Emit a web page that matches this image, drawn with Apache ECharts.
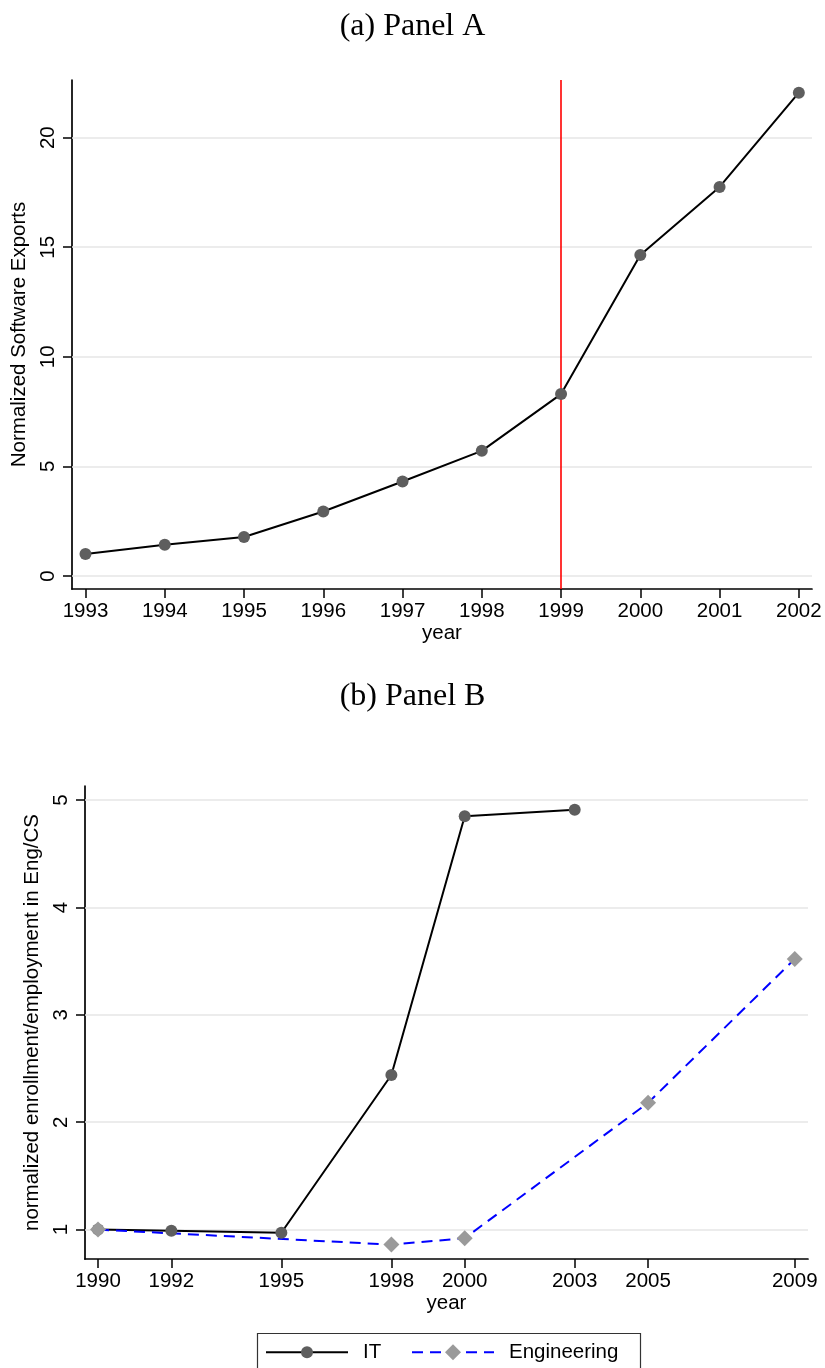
<!DOCTYPE html>
<html><head><meta charset="utf-8">
<script src="https://cdn.jsdelivr.net/npm/echarts@6/dist/echarts.min.js"></script>
<style>html,body{margin:0;padding:0;background:#fff}#c{width:825px;height:1368px}</style>
</head><body><div id="c"></div>
<script>
// Panel A data
const yearsA = [1993, 1994, 1995, 1996, 1997, 1998, 1999, 2000, 2001, 2002];
const exportsA = [1.00, 1.42, 1.78, 2.94, 4.31, 5.71, 8.30, 14.64, 17.75, 22.05];
const ticksAY = [0, 5, 10, 15, 20];
const cutoffYear = 1999;
// Panel B data
const yearsIT = [1990, 1992, 1995, 1998, 2000, 2003];
const valuesIT = [1.00, 0.99, 0.97, 2.44, 4.85, 4.91];
const yearsEng = [1990, 1998, 2000, 2005, 2009];
const valuesEng = [1.00, 0.86, 0.92, 2.18, 3.52];
const ticksBX = [1990, 1992, 1995, 1998, 2000, 2003, 2005, 2009];
const ticksBY = [1, 2, 3, 4, 5];

const sans = 'Liberation Sans';
const fs = 20.5;
const gridColor = '#e6e6e6';

function pairs(xs, ys) { return xs.map((x, i) => [x, ys[i]]); }
function gridLines(vals) {
  return vals.map(v => ({ yAxis: v, lineStyle: { color: gridColor, width: 1.5, type: 'solid' } }));
}

function xAxisOpt(gridIndex, min, max, ticks) {
  return {
    type: 'value', gridIndex, min, max,
    name: 'year', nameLocation: 'middle', nameGap: 34,
    nameTextStyle: { fontFamily: sans, fontSize: fs, color: '#000' },
    axisLine: { show: true, onZero: false, lineStyle: { color: '#000', width: 1.7 } },
    axisTick: { show: true, length: 9, customValues: ticks, lineStyle: { color: '#000', width: 1.5 } },
    axisLabel: { customValues: ticks, formatter: v => String(v), fontFamily: sans, fontSize: fs, color: '#000', margin: 12 },
    splitLine: { show: false }
  };
}
function yAxisOpt(gridIndex, min, max, ticks, name, nameGap) {
  return {
    type: 'value', gridIndex, min, max,
    name, nameLocation: 'middle', nameGap,
    nameTextStyle: { fontFamily: sans, fontSize: fs, color: '#000' },
    axisLine: { show: true, onZero: false, lineStyle: { color: '#000', width: 1.7 } },
    axisTick: { show: true, length: 9, customValues: ticks, lineStyle: { color: '#000', width: 1.5 } },
    axisLabel: { customValues: ticks, rotate: 90, formatter: v => String(v), fontFamily: sans, fontSize: fs, color: '#000', margin: 13 },
    splitLine: { show: false }
  };
}
function legendOpt(name, left, itemHeight) {
  return {
    data: [name], left, top: 1352 - Math.max(itemHeight, fs) / 2,
    itemWidth: 82, itemHeight, padding: 0,
    textStyle: { fontFamily: sans, fontSize: fs, color: '#000', padding: [0, 0, 0, 10] }
  };
}

const chart = echarts.init(document.getElementById('c'), null, { renderer: 'canvas' });
chart.setOption({
  animation: false,
  backgroundColor: '#fff',
  title: [
    { text: '(a) Panel A', left: 'center', top: 6, textStyle: { fontFamily: 'Liberation Serif', fontSize: 32, fontWeight: 'normal', color: '#000' } },
    { text: '(b) Panel B', left: 'center', top: 676, textStyle: { fontFamily: 'Liberation Serif', fontSize: 32, fontWeight: 'normal', color: '#000' } }
  ],
  graphic: [
    { type: 'rect', left: 255, top: 1331, shape: { width: 383, height: 60 }, style: { fill: 'none', stroke: '#333', lineWidth: 1.2 }, silent: true }
  ],
  grid: [
    { left: 72, top: 80, width: 740, height: 509 },
    { left: 85, top: 786, width: 723, height: 473 }
  ],
  xAxis: [
    xAxisOpt(0, 1992.83, 2002.166, yearsA),
    xAxisOpt(1, 1989.645, 2009.362, ticksBX)
  ],
  yAxis: [
    yAxisOpt(0, -0.594, 22.63, ticksAY, 'Normalized Software Exports', 33),
    yAxisOpt(1, 0.726, 5.131, ticksBY, 'normalized enrollment/employment in Eng/CS', 38)
  ],
  legend: [
    legendOpt('IT', 265, 15),
    legendOpt('Engineering', 411, 20)
  ],
  series: [
    {
      name: 'Exports', type: 'line', xAxisIndex: 0, yAxisIndex: 0,
      data: pairs(yearsA, exportsA),
      symbol: 'circle', symbolSize: 12,
      itemStyle: { color: '#5e5e5e' },
      lineStyle: { color: '#000', width: 2 },
      markLine: {
        z: 1, silent: true, symbol: 'none', label: { show: false },
        data: gridLines(ticksAY).concat([{ xAxis: cutoffYear, lineStyle: { color: '#ff0000', width: 1.6, type: 'solid' } }])
      }
    },
    {
      name: 'IT', type: 'line', xAxisIndex: 1, yAxisIndex: 1,
      data: pairs(yearsIT, valuesIT),
      symbol: 'circle', symbolSize: 12,
      itemStyle: { color: '#5e5e5e' },
      lineStyle: { color: '#000', width: 2 },
      markLine: {
        z: 1, silent: true, symbol: 'none', label: { show: false },
        data: gridLines(ticksBY)
      }
    },
    {
      name: 'Engineering', type: 'line', xAxisIndex: 1, yAxisIndex: 1,
      data: pairs(yearsEng, valuesEng),
      symbol: 'diamond', symbolSize: 16,
      itemStyle: { color: '#9a9a9a' },
      lineStyle: { color: '#0000ff', width: 2, type: [11, 7] }
    }
  ]
});
</script></body></html>
